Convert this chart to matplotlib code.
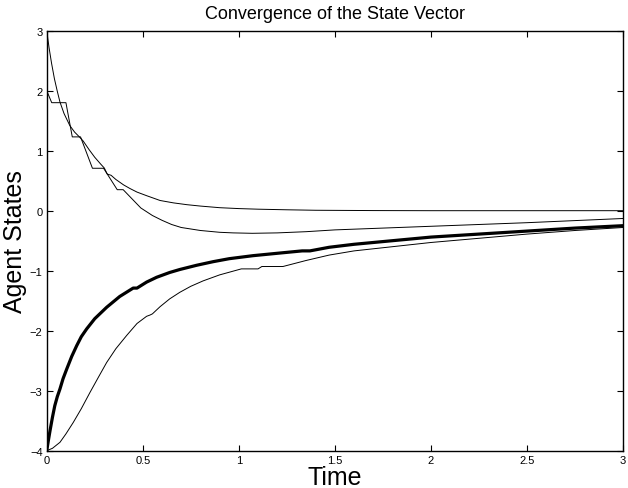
import numpy as np
import matplotlib.pyplot as plt

plt.rcParams['font.family'] = ['Liberation Sans', 'DejaVu Sans']

# agent 1: starts at 3, settles at 0
t_a = [0, 0.012, 0.025, 0.04, 0.055, 0.069, 0.09, 0.12, 0.145, 0.17, 0.19, 0.22,
       0.25, 0.28, 0.30, 0.315, 0.335, 0.36, 0.40, 0.433, 0.47, 0.52, 0.59, 0.66,
       0.73, 0.8, 0.9, 1.0, 1.1, 1.25, 1.4, 1.7, 2.0, 2.5, 3.0]
x_a = [3.0, 2.72, 2.46, 2.2, 1.99, 1.81, 1.62, 1.42, 1.31, 1.23, 1.16, 1.02,
       0.89, 0.78, 0.71, 0.61, 0.59, 0.52, 0.43, 0.37, 0.31, 0.25, 0.17, 0.13,
       0.10, 0.077, 0.05, 0.035, 0.025, 0.015, 0.007, 0.002, 0.0, 0.0, 0.0]

# agent 2: starts at 2, stepped descent, dips below 0
t_b = [0, 0.026, 0.10, 0.133, 0.176, 0.238, 0.296, 0.367, 0.398, 0.49, 0.55, 0.60,
       0.65, 0.70, 0.80, 0.90, 0.97, 1.07, 1.2, 1.35, 1.5, 1.75, 2.0, 2.25, 2.5,
       2.75, 3.0]
x_b = [2.0, 1.8, 1.8, 1.23, 1.23, 0.707, 0.707, 0.35, 0.35, 0.045, -0.08, -0.16,
       -0.23, -0.28, -0.33, -0.36, -0.37, -0.377, -0.37, -0.35, -0.32, -0.29,
       -0.26, -0.23, -0.2, -0.165, -0.13]

# agent 3 (bold): starts at -4
t_c = [0, 0.008, 0.017, 0.03, 0.042, 0.055, 0.069, 0.085, 0.104, 0.13, 0.156,
       0.18, 0.208, 0.25, 0.312, 0.38, 0.45, 0.47, 0.52, 0.572, 0.64, 0.693, 0.78,
       0.866, 0.95, 1.073, 1.2, 1.33, 1.37, 1.47, 1.6, 1.8, 2.0, 2.25, 2.5, 2.75,
       3.0]
x_c = [-4.0, -3.84, -3.67, -3.44, -3.25, -3.1, -2.97, -2.8, -2.64, -2.43, -2.25,
       -2.1, -1.97, -1.8, -1.61, -1.43, -1.29, -1.29, -1.19, -1.11, -1.03, -0.98,
       -0.91, -0.85, -0.8, -0.75, -0.71, -0.67, -0.67, -0.61, -0.56, -0.5, -0.44,
       -0.39, -0.34, -0.29, -0.25]

# agent 4: starts at -4, slow S-shaped rise
t_d = [0, 0.03, 0.069, 0.1, 0.138, 0.18, 0.225, 0.27, 0.312, 0.36, 0.416, 0.47,
       0.52, 0.537, 0.55, 0.59, 0.64, 0.693, 0.75, 0.814, 0.9, 1.013, 1.1, 1.12,
       1.23, 1.35, 1.47, 1.6, 1.8, 2.0, 2.25, 2.5, 2.75, 3.0]
x_d = [-4.0, -3.96, -3.86, -3.72, -3.53, -3.3, -3.03, -2.77, -2.53, -2.3, -2.08,
       -1.88, -1.76, -1.74, -1.72, -1.6, -1.47, -1.36, -1.26, -1.17, -1.07,
       -0.97, -0.97, -0.93, -0.93, -0.83, -0.74, -0.67, -0.6, -0.53, -0.46,
       -0.39, -0.33, -0.28]

xticks = [0, 0.5, 1, 1.5, 2, 2.5, 3]
xticklabels = ['0', '0.5', '1', '1.5', '2', '2.5', '3']
yticks = [-4, -3, -2, -1, 0, 1, 2, 3]
yticklabels = ['\u22124', '\u22123', '\u22122', '\u22121', '0', '1', '2', '3']


def main():
    fig = plt.figure(figsize=(6.28, 4.89), dpi=100)
    ax = fig.add_axes([0.0744, 0.0763, 0.9177, 0.8589])

    ax.plot(t_a, x_a, color='black', linewidth=0.7)
    ax.plot(t_b, x_b, color='black', linewidth=0.7)
    ax.plot(t_d, x_d, color='black', linewidth=0.7)
    ax.plot(t_c, x_c, color='black', linewidth=2.3)

    ax.set_xlim(0, 3)
    ax.set_ylim(-4, 3)
    ax.set_xticks(xticks)
    ax.set_xticklabels(xticklabels)
    ax.set_yticks(yticks)
    ax.set_yticklabels(yticklabels)
    ax.tick_params(direction='in', top=True, right=True, length=4, width=0.8,
                   labelsize=8, pad=3)
    for spine in ax.spines.values():
        spine.set_linewidth(1.0)

    ax.set_xlabel('Time', fontsize=18, labelpad=0)
    ax.set_ylabel('Agent States', fontsize=18, labelpad=2)
    ax.set_title('Convergence of the State Vector', fontsize=13, pad=9)

    fig.savefig('out.png', dpi=100)


if __name__ == '__main__':
    main()
